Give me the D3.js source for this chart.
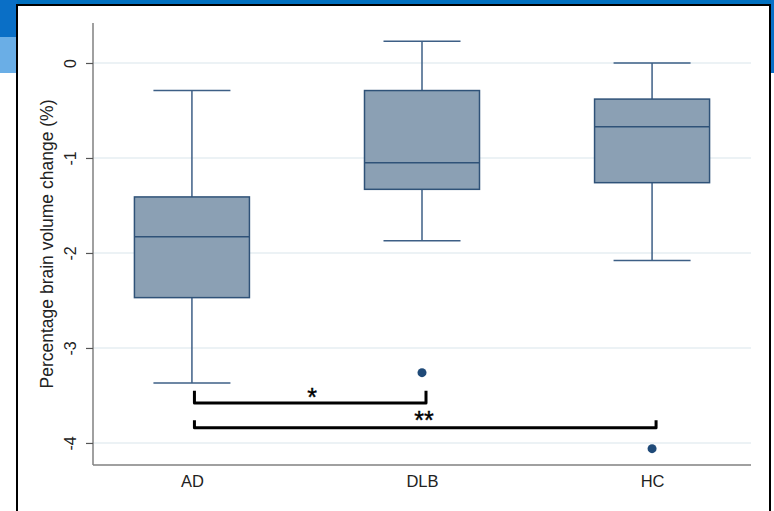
<!DOCTYPE html>
<html>
<head>
<meta charset="utf-8">
<script src="https://cdn.jsdelivr.net/npm/d3@7"></script>
<style>
  body { margin: 0; background: #fff; }
  svg { display: block; font-family: "Liberation Sans", Arial, sans-serif; }
</style>
</head>
<body>
<div id="chart"></div>
<script>
// ... data
const groups = ['AD', 'DLB', 'HC'];
const whiskerHigh = [-0.29, 0.23, 0.0];
const q3 = [-1.41, -0.29, -0.38];
const medians = [-1.83, -1.05, -0.67];
const q1 = [-2.47, -1.33, -1.26];
const whiskerLow = [-3.37, -1.87, -2.08];
const outlierGroups = ['DLB', 'HC'];
const outlierValues = [-3.26, -4.06];
const yTicks = [0, -1, -2, -3, -4];
const yLabel = 'Percentage brain volume change (%)';
const brackets = [
    {from: 'AD', to: 'DLB', top: -3.45, bottom: -3.58, label: '*', labelY: -3.45, labelX: 312},
    {from: 'AD', to: 'HC', top: -3.76, bottom: -3.84, label: '**', labelY: -3.69, labelX: null}
];

const W = 774, H = 511;
const margin = {top: 23, right: 23, bottom: 46, left: 93};
const width = W - margin.left - margin.right;
const height = H - margin.top - margin.bottom;

const svg = d3.select('#chart').append('svg')
    .attr('width', W)
    .attr('height', H);

// ... slide frame around the figure
svg.append('rect').attr('x', 0).attr('y', 0).attr('width', W).attr('height', 5).attr('fill', '#0070c0');
svg.append('rect').attr('x', 0).attr('y', 0).attr('width', 17).attr('height', 37).attr('fill', '#0a6fc6');
svg.append('rect').attr('x', 0).attr('y', 37).attr('width', 17).attr('height', 36).attr('fill', '#6aaee6');
svg.append('rect').attr('x', 771).attr('y', 0).attr('width', 3).attr('height', 73).attr('fill', '#0a6fc6');
svg.append('rect')
    .attr('x', 17).attr('y', 5)
    .attr('width', 753).attr('height', 520)
    .attr('fill', '#fff')
    .attr('stroke', '#000')
    .attr('stroke-width', 2);

const g = svg.append('g')
    .attr('transform', 'translate(' + margin.left + ',' + margin.top + ')');

const x = d3.scalePoint()
    .domain(groups)
    .range([0, width])
    .padding(0.43);

const y = d3.scaleLinear()
    .domain([-4.232, 0.421])
    .range([height, 0]);

// ... gridlines
g.append('g')
    .selectAll('line')
    .data(yTicks)
    .join('line')
    .attr('x1', 0)
    .attr('x2', width)
    .attr('y1', d => y(d))
    .attr('y2', d => y(d))
    .attr('stroke', '#e6eef2')
    .attr('stroke-width', 1.5);

// ... axes
const yAxis = d3.axisLeft(y)
    .tickValues(yTicks)
    .tickSize(7)
    .tickPadding(4)
    .tickFormat(d => String(d));

const ya = g.append('g').call(yAxis);
ya.select('.domain').attr('stroke', '#808080').attr('stroke-width', 1.5).attr('d', 'M0,0V' + height);
ya.selectAll('.tick line').attr('stroke', '#555').attr('stroke-width', 1.2);
ya.selectAll('.tick text')
    .attr('transform', 'rotate(-90)')
    .attr('x', 0)
    .attr('y', -23)
    .attr('dy', '0.35em')
    .style('text-anchor', 'middle')
    .style('font-size', '16px')
    .style('font-family', '"Liberation Sans", Arial, sans-serif')
    .attr('fill', '#222');

const xAxis = d3.axisBottom(x).tickSize(0).tickPadding(10);
const xa = g.append('g')
    .attr('transform', 'translate(0,' + height + ')')
    .call(xAxis);
xa.select('.domain').attr('stroke', '#808080').attr('stroke-width', 1.5).attr('d', 'M0,0H' + width);
xa.selectAll('.tick text')
    .style('font-size', '16.5px')
    .style('font-family', '"Liberation Sans", Arial, sans-serif')
    .attr('fill', '#222');

g.append('text')
    .attr('transform', 'rotate(-90)')
    .attr('x', -height / 2)
    .attr('y', -46)
    .attr('dy', '0.35em')
    .style('text-anchor', 'middle')
    .style('font-size', '17.5px')
    .attr('fill', '#222')
    .text(yLabel);

// ... boxes
const boxW = 115, capW = 77;
const stroke = '#3d5f86';
const boxes = groups.map((k, i) => ({
    key: k, hi: whiskerHigh[i], q3: q3[i], med: medians[i], q1: q1[i], lo: whiskerLow[i]
}));

const bg = g.append('g')
    .selectAll('g')
    .data(boxes)
    .join('g')
    .attr('transform', d => 'translate(' + x(d.key) + ',0)');

bg.append('line')
    .attr('x1', 0).attr('x2', 0)
    .attr('y1', d => y(d.hi)).attr('y2', d => y(d.q3))
    .attr('stroke', stroke).attr('stroke-width', 1.5);
bg.append('line')
    .attr('x1', 0).attr('x2', 0)
    .attr('y1', d => y(d.q1)).attr('y2', d => y(d.lo))
    .attr('stroke', stroke).attr('stroke-width', 1.5);
bg.append('line')
    .attr('x1', -capW / 2).attr('x2', capW / 2)
    .attr('y1', d => y(d.hi)).attr('y2', d => y(d.hi))
    .attr('stroke', stroke).attr('stroke-width', 1.5);
bg.append('line')
    .attr('x1', -capW / 2).attr('x2', capW / 2)
    .attr('y1', d => y(d.lo)).attr('y2', d => y(d.lo))
    .attr('stroke', stroke).attr('stroke-width', 1.5);
bg.append('rect')
    .attr('x', -boxW / 2)
    .attr('width', boxW)
    .attr('y', d => y(d.q3))
    .attr('height', d => y(d.q1) - y(d.q3))
    .attr('fill', '#8ba0b4')
    .attr('stroke', '#2f5278')
    .attr('stroke-width', 1.5);
bg.append('line')
    .attr('x1', -boxW / 2).attr('x2', boxW / 2)
    .attr('y1', d => y(d.med)).attr('y2', d => y(d.med))
    .attr('stroke', '#2f5278').attr('stroke-width', 1.5);

// ... outliers
g.append('g')
    .selectAll('circle')
    .data(outlierValues)
    .join('circle')
    .attr('cx', (d, i) => x(outlierGroups[i]))
    .attr('cy', d => y(d))
    .attr('r', 4.5)
    .attr('fill', '#1f4a78');

// ... significance brackets
const br = g.append('g');
brackets.forEach(b => {
    const x0 = x(b.from) + 2.5, x1 = x(b.to) + 4;
    br.append('path')
        .attr('d', 'M' + x0 + ',' + y(b.top) + 'V' + y(b.bottom) + 'H' + x1 + 'V' + y(b.top))
        .attr('fill', 'none')
        .attr('stroke', '#000')
        .attr('stroke-width', 3)
        .attr('stroke-linejoin', 'round');
    br.append('text')
        .attr('x', b.labelX !== null ? b.labelX - margin.left : (x(b.from) + x(b.to)) / 2 + 2)
        .attr('y', y(b.labelY))
        .attr('dy', '0.6em')
        .style('text-anchor', 'middle')
        .style('font-size', '25px')
        .attr('fill', '#000')
        .attr('stroke', '#000')
        .attr('stroke-width', 0.4)
        .text(b.label);
});
</script>
</body>
</html>
